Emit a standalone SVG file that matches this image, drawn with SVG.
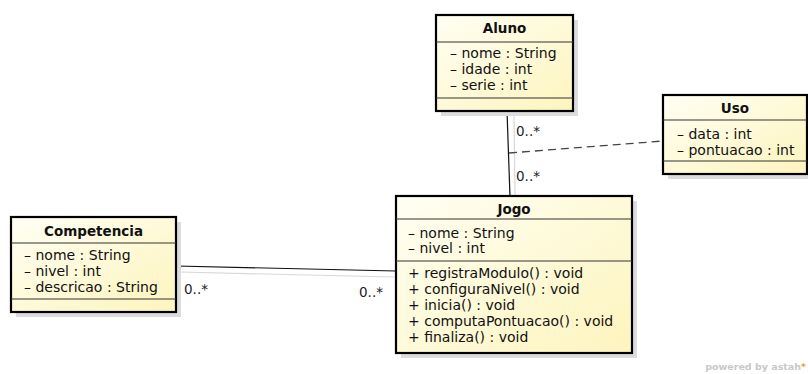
<svg xmlns="http://www.w3.org/2000/svg" width="808" height="374" viewBox="0 0 808 374">
<defs>
<linearGradient id="fill" x1="0" y1="0" x2="1" y2="1">
<stop offset="0" stop-color="#fffff4"/>
<stop offset="1" stop-color="#fdf4bd"/>
</linearGradient>
<style>
.shadow{fill:#dcdcdc;}
.box{fill:url(#fill);stroke:#000;stroke-width:2.2;}
.sep{stroke:#333;stroke-width:1;}
.t{font-family:"DejaVu Sans",sans-serif;font-size:14px;fill:#111;}
.title{font-family:"DejaVu Sans",sans-serif;font-size:13.5px;font-weight:bold;fill:#111;text-anchor:middle;}
.line{stroke:#111;stroke-width:1.2;fill:none;}
.lshadow{stroke:#d8d8d8;stroke-width:1.2;fill:none;}
.dash{stroke:#444;stroke-width:1.3;fill:none;stroke-dasharray:8 5;}
.lbl{font-family:"DejaVu Sans",sans-serif;font-size:13.5px;fill:#222;}
</style>
</defs>
<rect width="808" height="374" fill="#fff"/>
<g id="connectors">
<line class="lshadow" x1="514" y1="112" x2="515" y2="197"/>
<line class="line" x1="507" y1="111" x2="510" y2="197"/>
<line class="dash" x1="509" y1="153" x2="663" y2="141"/>
<line class="lshadow" x1="180" y1="272" x2="394" y2="277"/>
<line class="line" x1="176" y1="266" x2="396" y2="271"/>
<text class="lbl" x="516" y="136">0..*</text>
<text class="lbl" x="516" y="181">0..*</text>
<text class="lbl" x="184" y="294">0..*</text>
<text class="lbl" x="359" y="297">0..*</text>
</g>
<g id="Aluno">
<rect class="shadow" x="441" y="20" width="137" height="96"/>
<rect class="box" x="436" y="15" width="137" height="96"/>
<line class="sep" x1="436" y1="42" x2="573" y2="42"/>
<line class="sep" x1="436" y1="98" x2="573" y2="98"/>
<text class="title" x="504.5" y="33">Aluno</text>
<text class="t" x="450" y="58">– nome : String</text>
<text class="t" x="450" y="74">– idade : int</text>
<text class="t" x="450" y="90">– serie : int</text>
</g>
<g id="Uso">
<rect class="shadow" x="668" y="100" width="145" height="79"/>
<rect class="box" x="663" y="95" width="144" height="79"/>
<line class="sep" x1="663" y1="120" x2="807" y2="120"/>
<line class="sep" x1="663" y1="161" x2="807" y2="161"/>
<text class="title" x="735" y="113">Uso</text>
<text class="t" x="677" y="139">– data : int</text>
<text class="t" x="677" y="155">– pontuacao : int</text>
</g>
<g id="Competencia">
<rect class="shadow" x="16" y="222" width="165" height="95"/>
<rect class="box" x="11" y="217" width="165" height="95"/>
<line class="sep" x1="11" y1="243" x2="176" y2="243"/>
<line class="sep" x1="11" y1="299" x2="176" y2="299"/>
<text class="title" x="93.5" y="236">Competencia</text>
<text class="t" x="24" y="260">– nome : String</text>
<text class="t" x="24" y="276">– nivel : int</text>
<text class="t" x="24" y="292">– descricao : String</text>
</g>
<g id="Jogo">
<rect class="shadow" x="401" y="201" width="236" height="157"/>
<rect class="box" x="396" y="196" width="236" height="157"/>
<line class="sep" x1="396" y1="219" x2="632" y2="219"/>
<line class="sep" x1="396" y1="261" x2="632" y2="261"/>
<text class="title" x="514" y="214">Jogo</text>
<text class="t" x="408" y="238">– nome : String</text>
<text class="t" x="408" y="253">– nivel : int</text>
<text class="t" x="408" y="278">+ registraModulo() : void</text>
<text class="t" x="408" y="294">+ configuraNivel() : void</text>
<text class="t" x="408" y="310">+ inicia() : void</text>
<text class="t" x="408" y="326">+ computaPontuacao() : void</text>
<text class="t" x="408" y="342">+ finaliza() : void</text>
</g>
<text x="806" y="370" text-anchor="end" font-family="DejaVu Sans, sans-serif" font-size="9.5" font-weight="bold" fill="#c8c8c8">powered by astah<tspan fill="#f0a030">*</tspan></text>
</svg>
